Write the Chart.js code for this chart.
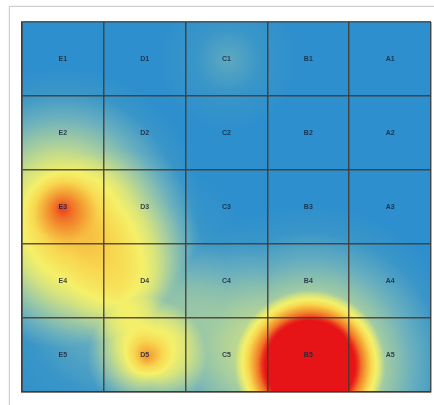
<!DOCTYPE html>
<html><head><meta charset="utf-8">
<script src="https://cdn.jsdelivr.net/npm/chart.js@4/dist/chart.umd.min.js"></script>
<style>
html,body{margin:0;padding:0;background:#fff;width:434px;height:405px;overflow:hidden}
#frame{position:absolute;left:9px;top:6px;width:440px;height:420px;border:1px solid #cfcfcf;box-shadow:0 0 2px rgba(0,0,0,0.12);background:#fff}
#wrap{position:absolute;left:0;top:0;width:434px;height:405px}
</style></head><body>
<div id="frame"></div>
<div id="wrap"><canvas id="c"></canvas></div>
<script>
// grid labels
const columnLabels = ['E','D','C','B','A'];
const rowLabels = ['1','2','3','4','5'];
// heat sources: column position, row position (cell units), intensity, spread (cell widths), falloff power
const hotCol     = [3.52, 3.52, 0.49, 0.49, 1.53, 1.53, 1.20, 1.53, 2.52];
const hotRow     = [4.64, 4.64, 2.51, 2.51, 4.53, 4.53, 3.76, 3.50, 0.51];
const hotValue   = [1.22, 0.70, 0.72, 0.12, 0.50, 0.10, 0.35, 0.12, 0.22];
const hotSpread  = [0.92, 1.96, 1.71, 0.43, 0.73, 0.30, 1.83, 0.98, 0.86];
const hotFalloff = [1, 1, 1, 1, 1, 1, 1, 1, 1];

const stops = [
  [0.00, [45,143,205]],
  [0.12, [58,150,200]],
  [0.25, [105,175,190]],
  [0.38, [165,205,160]],
  [0.48, [215,228,125]],
  [0.56, [245,240,105]],
  [0.66, [248,215,80]],
  [0.76, [244,168,55]],
  [0.86, [240,115,40]],
  [0.94, [234,50,28]],
  [1.00, [230,20,22]]
];
function cmap(t){
  if (t <= 0) return stops[0][1];
  if (t >= 1) return stops[stops.length-1][1];
  for (let k=1;k<stops.length;k++){
    if (t <= stops[k][0]){
      const [t0,c0]=stops[k-1],[t1,c1]=stops[k];
      const f=(t-t0)/(t1-t0);
      return [c0[0]+(c1[0]-c0[0])*f, c0[1]+(c1[1]-c0[1])*f, c0[2]+(c1[2]-c0[2])*f];
    }
  }
}

const heatPoints = hotCol.map((c,i)=>({x:c, y:hotRow[i], v:hotValue[i], s:hotSpread[i], p:hotFalloff[i]}));

const heatPlugin = {
  id:'heat',
  beforeDraw(chart){
    const {ctx, chartArea:a, scales:{x,y}} = chart;
    const w = Math.round(a.right-a.left), h = Math.round(a.bottom-a.top);
    const pts = chart.data.datasets[0].data.map(p=>({
      px: x.getPixelForValue(p.x)-a.left,
      py: y.getPixelForValue(p.y)-a.top,
      v: p.v, p: p.p,
      r: Math.abs(x.getPixelForValue(p.x+p.s)-x.getPixelForValue(p.x))
    }));
    const off = document.createElement('canvas');
    off.width=w; off.height=h;
    const octx = off.getContext('2d');
    const img = octx.createImageData(w,h);
    for (let j=0;j<h;j++){
      for (let i=0;i<w;i++){
        let I=0;
        for (const p of pts){
          const d=Math.hypot(i+0.5-p.px, j+0.5-p.py);
          if (d<p.r){ I+=p.v*Math.pow(1-d/p.r, p.p); }
        }
        const c=cmap(I);
        const o=(j*w+i)*4;
        img.data[o]=c[0]; img.data[o+1]=c[1]; img.data[o+2]=c[2]; img.data[o+3]=255;
      }
    }
    octx.putImageData(img,0,0);
    ctx.save();
    ctx.drawImage(off, a.left, a.top, w, h);
    ctx.restore();
  },
  afterDatasetsDraw(chart){
    const {ctx, scales:{x,y}} = chart;
    ctx.save();
    ctx.font='bold 7px Arial, "Liberation Sans", sans-serif';
    ctx.fillStyle='rgba(25,38,60,0.85)';
    ctx.textAlign='center'; ctx.textBaseline='middle';
    columnLabels.forEach((cl,i)=>{
      rowLabels.forEach((rl,j)=>{
        ctx.fillText(cl+rl, x.getPixelForValue(i+0.5), y.getPixelForValue(j+0.5));
      });
    });
    ctx.restore();
  }
};

const gridColor='rgba(70,55,45,0.85)';
new Chart(document.getElementById('c'),{
  type:'scatter',
  data:{datasets:[{data:heatPoints, pointRadius:0, pointHoverRadius:0, showLine:false}]},
  options:{
    responsive:true, maintainAspectRatio:false, animation:false,
    layout:{padding:{left:22,top:22,right:3,bottom:13}},
    plugins:{legend:{display:false}, tooltip:{enabled:false}},
    events:[],
    scales:{
      x:{type:'linear', min:0, max:columnLabels.length,
         ticks:{display:false, stepSize:1},
         grid:{color:gridColor, lineWidth:1.5, drawTicks:false},
         border:{display:true, color:gridColor, width:1.5}},
      y:{type:'linear', min:0, max:rowLabels.length, reverse:true,
         ticks:{display:false, stepSize:1},
         grid:{color:gridColor, lineWidth:1.5, drawTicks:false},
         border:{display:true, color:gridColor, width:1.5}}
    }
  },
  plugins:[heatPlugin]
});
</script>
</body></html>
